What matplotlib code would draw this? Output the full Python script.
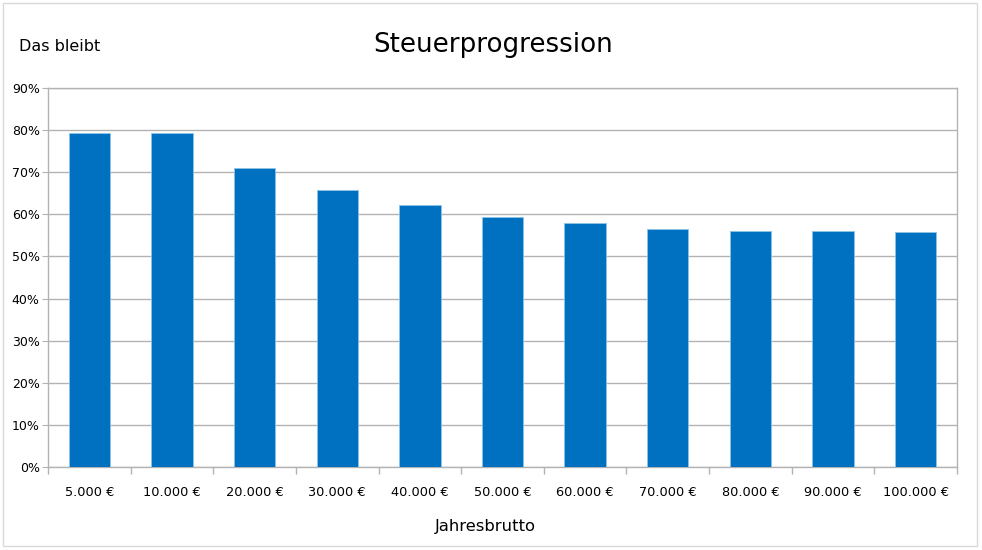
import matplotlib.pyplot as plt
from matplotlib.patches import Rectangle
from matplotlib.ticker import FixedLocator, PercentFormatter

# Data
brutto = ['5.000 €', '10.000 €', '20.000 €', '30.000 €', '40.000 €', '50.000 €',
          '60.000 €', '70.000 €', '80.000 €', '90.000 €', '100.000 €']
bleibt = [79.3, 79.3, 71.1, 65.7, 62.1, 59.4, 57.9, 56.4, 56.0, 56.0, 55.9]

plt.rcParams['font.family'] = ['DejaVu Sans']

fig = plt.figure(figsize=(9.82, 5.5), dpi=100)
ax = fig.add_axes([0.0489, 0.151, 0.9256, 0.689])

x = range(len(brutto))
ax.bar(x, bleibt, width=0.5, color='#0070c0', edgecolor='#8fc3e8', linewidth=0.6, zorder=3)

ax.set_xlim(-0.5, len(brutto) - 0.5)
ax.set_ylim(0, 90)
ax.set_yticks(range(0, 91, 10))
ax.yaxis.set_major_formatter(PercentFormatter(decimals=0))
ax.grid(axis='y', color='#b3b3b3', linewidth=1, zorder=0)

ax.set_xticks(list(x))
ax.set_xticklabels(brutto, fontsize=9.3)
ax.xaxis.set_minor_locator(FixedLocator([i - 0.5 for i in range(len(brutto) + 1)]))
ax.tick_params(axis='x', which='major', length=0, pad=14)
ax.tick_params(axis='x', which='minor', length=5, color='#b3b3b3', width=1)
ax.tick_params(axis='y', length=4, color='#b3b3b3', labelsize=9, pad=2)

for s in ax.spines.values():
    s.set_color('#b3b3b3')
    s.set_linewidth(1)

fig.text(0.502, 0.918, 'Steuerprogression', ha='center', va='center', fontsize=18.8)
fig.text(0.019, 0.916, 'Das bleibt', ha='left', va='center', fontsize=11.5)
fig.text(0.494, 0.042, 'Jahresbrutto', ha='center', va='center', fontsize=11.8)

fig.patches.append(Rectangle((0.003, 0.007), 0.992, 0.987, transform=fig.transFigure,
                             fill=False, edgecolor='#d9d9d9', linewidth=1))

fig.savefig('out.png', dpi=100)
